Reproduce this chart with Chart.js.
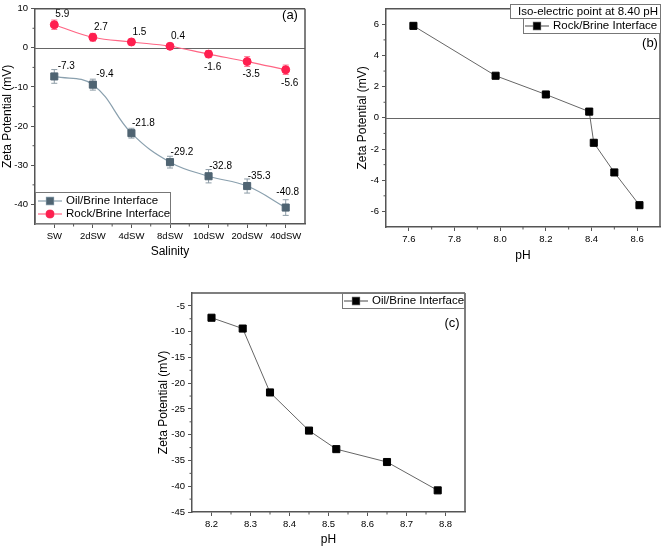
<!DOCTYPE html>
<html>
<head>
<meta charset="utf-8">
<script src="https://cdn.jsdelivr.net/npm/chart.js@4.4.1/dist/chart.umd.min.js"></script>
<style>
html, body { margin: 0; padding: 0; background: #fff; }
body { width: 661px; height: 548px; position: relative; overflow: hidden; }
.panel { position: absolute; }
</style>
</head>
<body>
<div class="panel" style="left:0;top:0;width:320px;height:265px"><canvas id="chartA"></canvas></div>
<div class="panel" style="left:330px;top:0;width:331px;height:265px"><canvas id="chartB"></canvas></div>
<div class="panel" style="left:140px;top:280px;width:340px;height:268px"><canvas id="chartC"></canvas></div>
<script>
// data
const salinity = ["SW", "2dSW", "4dSW", "8dSW", "10dSW", "20dSW", "40dSW"];
const oilZeta = [-7.3, -9.4, -21.8, -29.2, -32.8, -35.3, -40.8];
const oilErr = [1.75, 1.4, 1.25, 1.5, 1.7, 1.8, 2.0];
const rockZeta = [5.9, 2.7, 1.5, 0.4, -1.6, -3.5, -5.6];
const rockErr = [1.2, 1.0, 0.7, 0.3, 0.9, 1.25, 1.2];
const rockPH = [7.62, 7.98, 8.20, 8.39, 8.41, 8.50, 8.61];
const oilPH = [8.20, 8.28, 8.35, 8.45, 8.52, 8.65, 8.78];

const ticksAY = [10, 0, -10, -20, -30, -40];
const minorAX = [0.5, 1.5, 2.5, 3.5, 4.5, 5.5];
const minorAY = [5, -5, -15, -25, -35];
const ticksBX = [7.6, 7.8, 8.0, 8.2, 8.4, 8.6];
const minorBX = [7.7, 7.9, 8.1, 8.3, 8.5];
const ticksBY = [6, 4, 2, 0, -2, -4, -6];
const minorBY = [5, 3, 1, -1, -3, -5];
const ticksCX = [8.2, 8.3, 8.4, 8.5, 8.6, 8.7, 8.8];
const minorCX = [8.25, 8.35, 8.45, 8.55, 8.65, 8.75];
const ticksCY = [-5, -10, -15, -20, -25, -30, -35, -40, -45];
const minorCY = [-7.5, -12.5, -17.5, -22.5, -27.5, -32.5, -37.5, -42.5];

Chart.defaults.font.family = '"Liberation Sans", Arial, sans-serif';
Chart.defaults.color = '#000';
Chart.defaults.animation = false;

const AXIS = '#555';
const FONT = '"Liberation Sans", Arial, sans-serif';

function scale(type, min, max, ticks, fmt, title, titlePad, size, horiz) {
    return {
        type: type, min: min, max: max,
        offset: type === 'category',
        afterBuildTicks: ticks ? s => { s.ticks = ticks.map(v => ({ value: v })); } : undefined,
        afterFit: s => { if (horiz) s.height = size; else s.width = size; },
        ticks: { font: { size: 9.5 }, padding: 3, callback: fmt, autoSkip: false, maxRotation: 0 },
        grid: { drawOnChartArea: false, offset: false, tickLength: 4, color: AXIS, lineWidth: 1 },
        border: { color: AXIS, width: 1.5 },
        title: { display: true, text: title, font: { size: 12 }, padding: titlePad }
    };
}

function line(ctx, x1, y1, x2, y2) {
    ctx.beginPath();
    ctx.moveTo(x1, y1);
    ctx.lineTo(x2, y2);
    ctx.stroke();
}

const decor = {
    id: 'decor',
    beforeDatasetsDraw(chart, args, o) {
        const { ctx, chartArea: a, scales: { x, y } } = chart;
        ctx.save();
        if (o.zero) {
            ctx.strokeStyle = '#666';
            ctx.lineWidth = 1;
            const y0 = Math.round(y.getPixelForValue(0)) + 0.5;
            line(ctx, a.left, y0, a.right, y0);
        }
        (o.errors || []).forEach(e => {
            const meta = chart.getDatasetMeta(e.ds);
            const vals = chart.data.datasets[e.ds].data;
            ctx.strokeStyle = e.color;
            ctx.lineWidth = 1;
            meta.data.forEach((pt, i) => {
                const yt = y.getPixelForValue(vals[i] + e.err[i]);
                const yb = y.getPixelForValue(vals[i] - e.err[i]);
                line(ctx, pt.x, yt, pt.x, yb);
                line(ctx, pt.x - 3, yt, pt.x + 3, yt);
                line(ctx, pt.x - 3, yb, pt.x + 3, yb);
            });
        });
        ctx.restore();
    },
    afterDatasetsDraw(chart, args, o) {
        const { ctx } = chart;
        ctx.save();
        ctx.font = '10px ' + FONT;
        ctx.fillStyle = '#000';
        ctx.textAlign = 'center';
        ctx.textBaseline = 'middle';
        (o.labels || []).forEach(l => {
            const meta = chart.getDatasetMeta(l.ds);
            const vals = chart.data.datasets[l.ds].data;
            meta.data.forEach((pt, i) => {
                const off = l.off(vals[i], i, vals.length);
                ctx.fillText(String(vals[i]), pt.x + off[0], pt.y + off[1]);
            });
        });
        ctx.restore();
    },
    afterDraw(chart, args, o) {
        const { ctx, chartArea: a, scales: { x, y } } = chart;
        ctx.save();
        // frame top and right
        ctx.strokeStyle = AXIS;
        ctx.lineWidth = 1.5;
        line(ctx, a.left, a.top, a.right, a.top);
        line(ctx, a.right, a.top, a.right, a.bottom);
        // minor ticks
        ctx.lineWidth = 1;
        (o.minorX || []).forEach(v => {
            const px = x.getPixelForValue(v);
            line(ctx, px, a.bottom, px, a.bottom + 2.5);
        });
        (o.minorY || []).forEach(v => {
            const py = y.getPixelForValue(v);
            line(ctx, a.left - 2.5, py, a.left, py);
        });
        // legend boxes
        (o.boxes || []).forEach(b => {
            ctx.fillStyle = '#fff';
            ctx.fillRect(b.x, b.y, b.w, b.h);
            ctx.strokeStyle = '#777';
            ctx.lineWidth = 1;
            ctx.strokeRect(b.x + 0.5, b.y + 0.5, b.w - 1, b.h - 1);
            ctx.font = '11.5px ' + FONT;
            ctx.textBaseline = 'middle';
            ctx.textAlign = 'left';
            b.rows.forEach(r => {
                if (r.ds !== undefined) {
                    const ds = chart.data.datasets[r.ds];
                    ctx.strokeStyle = ds.borderColor;
                    ctx.lineWidth = 1.2;
                    line(ctx, r.lx, r.y, r.lx + 24, r.y);
                    Chart.helpers.drawPoint(ctx, {
                        pointStyle: ds.pointStyle, radius: ds.pointRadius,
                        borderWidth: 1, rotation: 0
                    }, r.lx + 12, r.y);
                    ctx.fillStyle = ds.pointBackgroundColor;
                    ctx.strokeStyle = ds.pointBorderColor;
                    ctx.beginPath();
                    if (ds.pointStyle === 'circle') ctx.arc(r.lx + 12, r.y, ds.pointRadius, 0, Math.PI * 2);
                    else { const s = ds.pointRadius * Math.SQRT1_2; ctx.rect(r.lx + 12 - s, r.y - s, 2 * s, 2 * s); }
                    ctx.fill();
                }
                ctx.fillStyle = '#000';
                ctx.fillText(r.text, r.tx, r.y);
            });
        });
        // panel letter
        if (o.letter) {
            ctx.font = '13px ' + FONT;
            ctx.fillStyle = '#000';
            ctx.textAlign = 'center';
            ctx.textBaseline = 'middle';
            ctx.fillText(o.letter.text, o.letter.x, o.letter.y);
        }
        ctx.restore();
    }
};

const baseOpts = (pad) => ({
    responsive: true,
    maintainAspectRatio: false,
    layout: { padding: pad, autoPadding: false },
    plugins: { legend: { display: false }, tooltip: { enabled: false } }
});

// (a) zeta potential vs salinity
const optsA = baseOpts({ left: 0, top: 5, right: 15, bottom: 0 });
optsA.scales = {
    x: scale('category', undefined, undefined, null, function (v) { return this.getLabelForValue(v); },
        'Salinity', { top: 0, bottom: 6 }, 41, true),
    y: scale('linear', -45, 10, ticksAY, v => String(v), 'Zeta Potential (mV)', { top: 0, bottom: 0 }, 35, false)
};
optsA.plugins.decor = {
    zero: true,
    minorX: minorAX, minorY: minorAY,
    errors: [{ ds: 0, err: oilErr, color: '#8d9ca6' }, { ds: 1, err: rockErr, color: '#ff6f8e' }],
    labels: [
        { ds: 0, off: (v, i, n) => i === n - 1 ? [2, -15] : [12, -10] },
        { ds: 1, off: v => v >= 0 ? [8, -10] : [4, 13] }
    ],
    boxes: [{
        x: 35, y: 192, w: 136, h: 32,
        rows: [
            { ds: 0, text: 'Oil/Brine Interface', lx: 38, tx: 66, y: 201 },
            { ds: 1, text: 'Rock/Brine Interface', lx: 38, tx: 66, y: 214 }
        ]
    }],
    letter: { text: '(a)', x: 290, y: 15 }
};
new Chart(document.getElementById('chartA'), {
    type: 'line',
    data: {
        labels: salinity,
        datasets: [
            {
                label: 'Oil/Brine Interface', data: oilZeta,
                borderColor: '#8aa0ae', borderWidth: 1.2, tension: 0.4,
                pointStyle: 'rect', pointRadius: 5,
                pointBackgroundColor: '#4f6472', pointBorderColor: '#4f6472', pointBorderWidth: 1
            },
            {
                label: 'Rock/Brine Interface', data: rockZeta,
                borderColor: '#ff6584', borderWidth: 1.2, tension: 0.4,
                pointStyle: 'circle', pointRadius: 4,
                pointBackgroundColor: '#ff1f4f', pointBorderColor: '#ff1f4f', pointBorderWidth: 1
            }
        ]
    },
    options: optsA,
    plugins: [decor]
});

// (b) rock/brine vs pH
const optsB = baseOpts({ left: 0, top: 4, right: 1, bottom: 0 });
optsB.scales = {
    x: scale('linear', 7.5, 8.7, ticksBX, v => v.toFixed(1), 'pH', { top: 0, bottom: 2 }, 38, true),
    y: scale('linear', -7, 7, ticksBY, v => String(v), 'Zeta Potential (mV)', { top: 25, bottom: 0 }, 56, false)
};
optsB.plugins.decor = {
    zero: true,
    minorX: minorBX, minorY: minorBY,
    boxes: [
        { x: 180, y: 4, w: 151, h: 15, rows: [{ text: 'Iso-electric point at 8.40 pH', tx: 188, y: 11.5 }] },
        { x: 193, y: 18, w: 138, h: 16, rows: [{ ds: 0, text: 'Rock/Brine Interface', lx: 195, tx: 223, y: 26 }] }
    ],
    letter: { text: '(b)', x: 320, y: 43 }
};
new Chart(document.getElementById('chartB'), {
    type: 'scatter',
    data: {
        datasets: [{
            label: 'Rock/Brine Interface',
            data: rockPH.map((p, i) => ({ x: p, y: rockZeta[i] })),
            showLine: true, borderColor: '#666', borderWidth: 1,
            pointStyle: 'rect', pointRadius: 5,
            pointBackgroundColor: '#000', pointBorderColor: '#000', pointBorderWidth: 1
        }]
    },
    options: optsB,
    plugins: [decor]
});

// (c) oil/brine vs pH
const optsC = baseOpts({ left: 0, top: 13, right: 15, bottom: 0 });
optsC.scales = {
    x: scale('linear', 8.15, 8.85, ticksCX, v => v.toFixed(1), 'pH', { top: 0, bottom: 1 }, 36, true),
    y: scale('linear', -45, -2.5, ticksCY, v => String(v), 'Zeta Potential (mV)', { top: 16, bottom: 0 }, 52, false)
};
optsC.plugins.decor = {
    minorX: minorCX, minorY: minorCY,
    boxes: [
        { x: 202, y: 13, w: 123, h: 16, rows: [{ ds: 0, text: 'Oil/Brine Interface', lx: 204, tx: 232, y: 21 }] }
    ],
    letter: { text: '(c)', x: 312, y: 43 }
};
new Chart(document.getElementById('chartC'), {
    type: 'scatter',
    data: {
        datasets: [{
            label: 'Oil/Brine Interface',
            data: oilPH.map((p, i) => ({ x: p, y: oilZeta[i] })),
            showLine: true, borderColor: '#666', borderWidth: 1,
            pointStyle: 'rect', pointRadius: 5,
            pointBackgroundColor: '#000', pointBorderColor: '#000', pointBorderWidth: 1
        }]
    },
    options: optsC,
    plugins: [decor]
});
</script>
</body>
</html>
